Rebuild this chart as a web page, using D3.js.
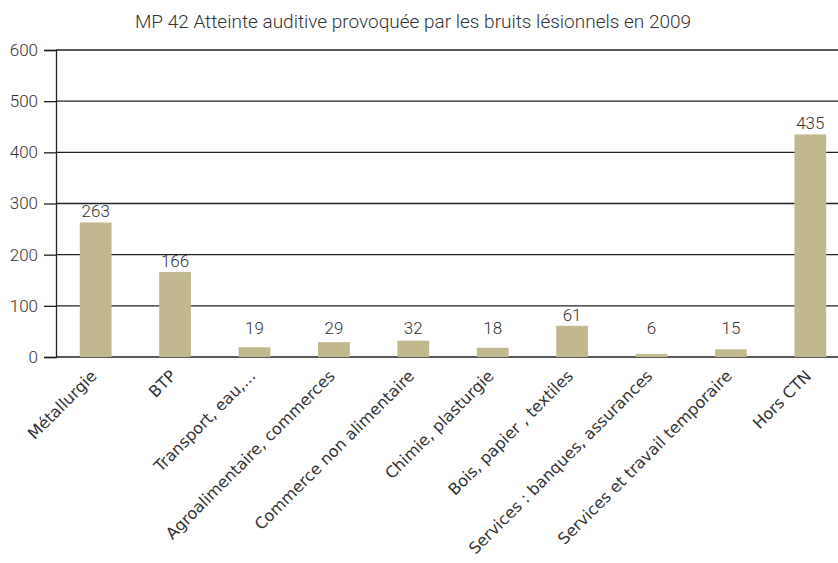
<!DOCTYPE html>
<html>
<head>
<meta charset="utf-8">
<script src="https://cdn.jsdelivr.net/npm/d3@7"></script>
<style>
  body { margin: 0; background: #fff; }
  svg { display: block; }
</style>
</head>
<body>
<script>
const categories = ["Métallurgie", "BTP", "Transport, eau,...", "Agroalimentaire, commerces",
  "Commerce non alimentaire", "Chimie, plasturgie", "Bois, papier , textiles",
  "Services : banques, assurances", "Services et travail temporaire", "Hors CTN"];
const values = [263, 166, 19, 29, 32, 18, 61, 6, 15, 435];
const yTicks = [0, 100, 200, 300, 400, 500, 600];
const title = "MP 42 Atteinte auditive provoquée par les bruits lésionnels en 2009";

const W = 838, H = 563;
const svg = d3.select("body").append("svg").attr("width", W).attr("height", H);

const x = d3.scaleBand().domain(categories).range([56, 850]).paddingInner(0.6).paddingOuter(0.3);
const y = d3.scaleLinear().domain([0, 600]).range([357, 50]);

// title
svg.append("text")
  .attr("x", 413).attr("y", 27.5)
  .attr("text-anchor", "middle")
  .attr("font-family", "Roboto")
  .attr("font-weight", 300)
  .attr("font-size", 19)
  .attr("fill", "#333")
  .text(title);

// gridlines + y axis
const yAxis = d3.axisLeft(y).tickValues(yTicks).tickSize(12).tickPadding(6);
const gy = svg.append("g").attr("transform", "translate(56,0)").call(yAxis);
gy.select(".domain").attr("stroke", "#222").attr("stroke-width", 1.3);
gy.selectAll(".tick line").attr("stroke", "#222").attr("stroke-width", 1.3);
gy.selectAll(".tick text")
  .attr("font-family", "Roboto").attr("font-weight", 300)
  .attr("font-size", 17).attr("fill", "#333");

svg.append("g").selectAll("line")
  .data(yTicks)
  .join("line")
  .attr("x1", 56).attr("x2", W)
  .attr("y1", d => y(d)).attr("y2", d => y(d))
  .attr("stroke", "#222").attr("stroke-width", 1.3);

// bars
svg.selectAll("rect.bar")
  .data(values)
  .join("rect")
  .attr("class", "bar")
  .attr("x", (d, i) => x(categories[i]))
  .attr("width", x.bandwidth())
  .attr("y", d => y(d))
  .attr("height", d => y(0) - y(d))
  .attr("fill", "#c1b88e");

// value labels
svg.selectAll("text.val")
  .data(values)
  .join("text")
  .attr("class", "val")
  .attr("x", (d, i) => x(categories[i]) + x.bandwidth() / 2)
  .attr("y", d => Math.min(y(d) - 5, y(45)))
  .attr("text-anchor", "middle")
  .attr("font-family", "Roboto")
  .attr("font-weight", 300)
  .attr("font-size", 17)
  .attr("fill", "#333")
  .text(d => d);

// category labels
svg.append("g").selectAll("text")
  .data(categories)
  .join("text")
  .attr("transform", d => `translate(${x(d) + x.bandwidth() / 2 + 2},${377}) rotate(-45)`)
  .attr("text-anchor", "end")
  .attr("font-family", "DejaVu Sans, Verdana, sans-serif")
  .attr("font-size", 16)
  .attr("fill", "#333")
  .text(d => d);
</script>
</body>
</html>
